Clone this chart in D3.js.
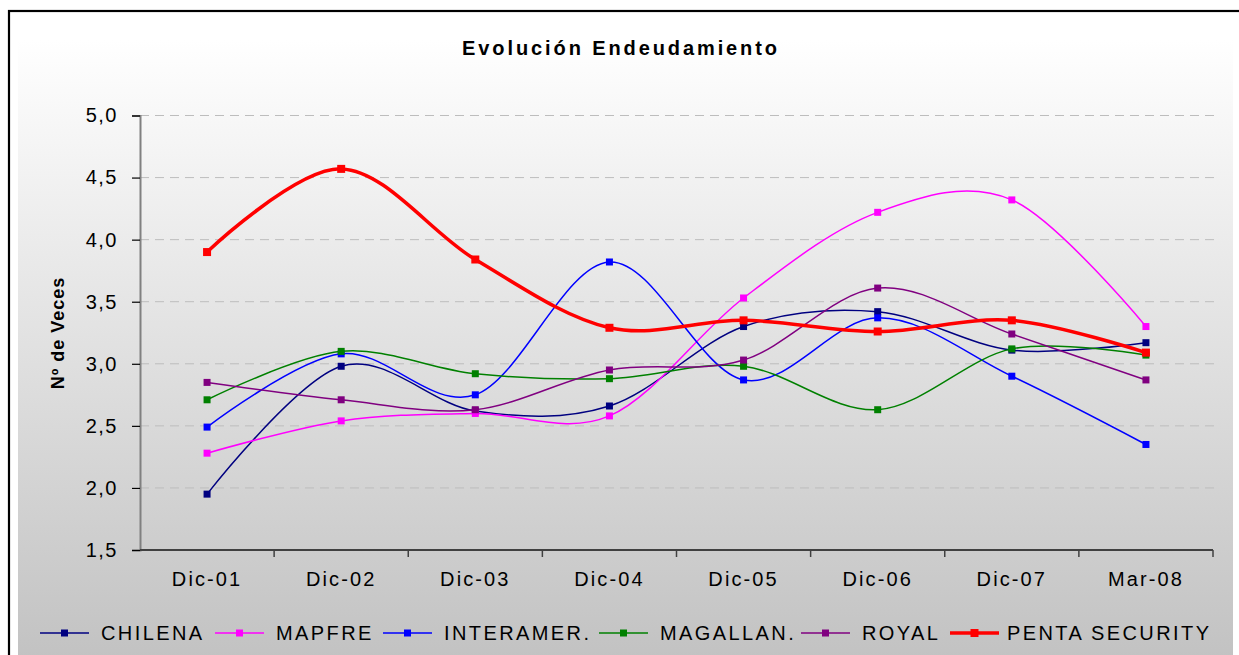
<!DOCTYPE html>
<html>
<head>
<meta charset="utf-8">
<script src="https://cdn.jsdelivr.net/npm/d3@7"></script>
<style>
  html, body { margin: 0; padding: 0; background: #fff; }
  svg { display: block; font-family: "Liberation Sans", Arial, sans-serif; }
</style>
</head>
<body>
<div id="chart"></div>
<script>
// periods on the x axis
var periods = ['Dic-01', 'Dic-02', 'Dic-03', 'Dic-04', 'Dic-05', 'Dic-06', 'Dic-07', 'Mar-08'];
var yTicks = [1.5, 2.0, 2.5, 3.0, 3.5, 4.0, 4.5, 5.0];

// series values
var chilena   = [1.95, 2.98, 2.62, 2.66, 3.30, 3.42, 3.11, 3.17];
var mapfre    = [2.28, 2.54, 2.60, 2.58, 3.53, 4.22, 4.32, 3.30];
var interamer = [2.49, 3.08, 2.75, 3.82, 2.87, 3.37, 2.90, 2.35];
var magallan  = [2.71, 3.10, 2.92, 2.88, 2.98, 2.63, 3.12, 3.07];
var royal     = [2.85, 2.71, 2.63, 2.95, 3.03, 3.61, 3.24, 2.87];
var penta     = [3.90, 4.57, 3.84, 3.29, 3.35, 3.26, 3.35, 3.09];

var seriesNames = ['CHILENA', 'MAPFRE', 'INTERAMER.', 'MAGALLAN.', 'ROYAL', 'PENTA SECURITY'];
var seriesValues = [chilena, mapfre, interamer, magallan, royal, penta];

var colors = ['#000080', '#ff00ff', '#0000ff', '#008000', '#800080', '#ff0000'];
var widths = [1.5, 1.5, 1.5, 1.5, 1.5, 3.5];
var markerSize = [7, 7, 7, 7, 7, 8];
// legend item starts (layout)
var legendX = [40, 215, 383, 599, 801, 950];

var W = 1239, H = 655;
var svg = d3.select('#chart').append('svg')
    .attr('width', W)
    .attr('height', H);

var defs = svg.append('defs');
var grad = defs.append('linearGradient')
    .attr('id', 'bg')
    .attr('x1', 0).attr('y1', 0).attr('x2', 0).attr('y2', 1);
grad.append('stop').attr('offset', '0%').attr('stop-color', '#ffffff');
grad.append('stop').attr('offset', '100%').attr('stop-color', '#c1c1c1');

// background
svg.append('rect').attr('x', 18).attr('y', 40).attr('width', 1215).attr('height', 630)
    .attr('fill', 'url(#bg)');
// outer border
svg.append('rect').attr('x', 9).attr('y', 11).attr('width', 1300).attr('height', 700)
    .attr('fill', 'none').attr('stroke', '#000').attr('stroke-width', 2.2);

var x = d3.scaleBand().domain(periods).range([140, 1213]);
var y = d3.scaleLinear().domain([1.5, 5.0]).range([550, 115.5]);

var locale = d3.formatLocale({decimal: ',', thousands: '.', grouping: [3], currency: ['$', '']});
var fmt = locale.format('.1f');

// title
svg.append('text')
    .attr('x', 621).attr('y', 55)
    .attr('text-anchor', 'middle')
    .style('font-size', '20px')
    .style('font-weight', 'bold')
    .style('letter-spacing', '2.9px')
    .text('Evolución Endeudamiento');

// grid
svg.append('g').selectAll('line')
    .data(yTicks.filter(function(d) { return d > 1.5; }))
    .enter().append('line')
    .attr('x1', 140).attr('x2', 1215)
    .attr('y1', function(d) { return y(d); })
    .attr('y2', function(d) { return y(d); })
    .attr('stroke', '#bdbdbd')
    .attr('stroke-width', 1)
    .attr('stroke-dasharray', '9,6');

// y axis
var yAxis = svg.append('g')
    .attr('transform', 'translate(140,0)')
    .call(d3.axisLeft(y).tickValues(yTicks).tickFormat(fmt).tickSize(8).tickPadding(14));
yAxis.select('.domain').attr('stroke', '#808080').attr('stroke-width', 2);
yAxis.selectAll('.tick line').attr('stroke', '#000').attr('stroke-width', 1.2);
yAxis.selectAll('.tick text')
    .style('font-size', '20px')
    .style('letter-spacing', '1.5px')
    .attr('fill', '#000');

// x axis
var xAxis = svg.append('g')
    .attr('transform', 'translate(0,550)')
    .call(d3.axisBottom(x).tickSize(0).tickPadding(22));
xAxis.select('.domain').remove();
xAxis.selectAll('.tick text')
    .style('font-size', '20px')
    .style('letter-spacing', '2.1px')
    .attr('fill', '#000');
svg.append('line')
    .attr('x1', 140).attr('x2', x.range()[1])
    .attr('y1', 550).attr('y2', 550)
    .attr('stroke', '#404040').attr('stroke-width', 2);
svg.append('g').selectAll('line')
    .data(periods)
    .enter().append('line')
    .attr('x1', function(d) { return x(d) + x.bandwidth(); })
    .attr('x2', function(d) { return x(d) + x.bandwidth(); })
    .attr('y1', 550).attr('y2', 557)
    .attr('stroke', '#404040').attr('stroke-width', 1.5);

// y label
svg.append('text')
    .attr('transform', 'translate(64,333) rotate(-90)')
    .attr('text-anchor', 'middle')
    .style('font-size', '18px')
    .style('font-weight', 'bold')
    .style('letter-spacing', '1px')
    .text('Nº de Veces');

// lines
var line = d3.line()
    .x(function(d, i) { return x(periods[i]) + x.bandwidth() / 2; })
    .y(function(d) { return y(d); })
    .curve(d3.curveCatmullRom.alpha(0));

var series = svg.append('g').selectAll('g')
    .data(seriesValues)
    .enter().append('g');

series.append('path')
    .attr('d', function(d) { return line(d); })
    .attr('fill', 'none')
    .attr('stroke', function(d, i) { return colors[i]; })
    .attr('stroke-width', function(d, i) { return widths[i]; })
    .attr('stroke-linejoin', 'round');

series.each(function(vals, si) {
    d3.select(this).selectAll('rect')
        .data(vals)
        .enter().append('rect')
        .attr('x', function(d, i) { return x(periods[i]) + x.bandwidth() / 2 - markerSize[si] / 2; })
        .attr('y', function(d) { return y(d) - markerSize[si] / 2; })
        .attr('width', markerSize[si])
        .attr('height', markerSize[si])
        .attr('fill', colors[si]);
});

// legend
var legend = svg.append('g').selectAll('g')
    .data(seriesNames)
    .enter().append('g')
    .attr('transform', function(d, i) { return 'translate(' + legendX[i] + ',633)'; });

legend.append('line')
    .attr('x1', 0).attr('x2', 49)
    .attr('y1', 0).attr('y2', 0)
    .attr('stroke', function(d, i) { return colors[i]; })
    .attr('stroke-width', function(d, i) { return widths[i]; });
legend.append('rect')
    .attr('x', function(d, i) { return 24.5 - markerSize[i] / 2; })
    .attr('y', function(d, i) { return -markerSize[i] / 2; })
    .attr('width', function(d, i) { return markerSize[i]; })
    .attr('height', function(d, i) { return markerSize[i]; })
    .attr('fill', function(d, i) { return colors[i]; });
legend.append('text')
    .attr('x', function(d, i) { return i === 5 ? 57 : 61; })
    .attr('y', 7)
    .style('font-size', '20px')
    .style('letter-spacing', '2.4px')
    .text(function(d) { return d; });
</script>
</body>
</html>
